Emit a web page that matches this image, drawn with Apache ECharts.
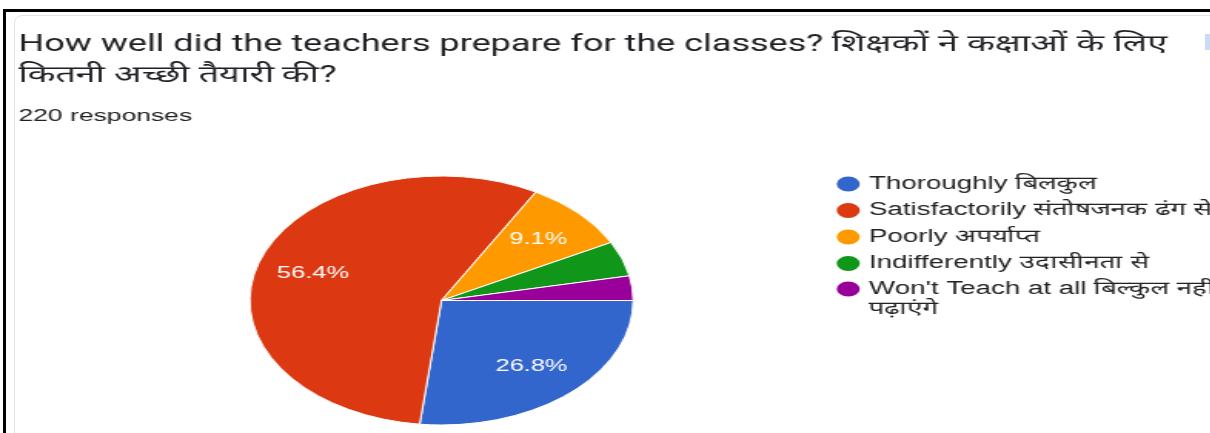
<!DOCTYPE html>
<html>
<head>
<meta charset="utf-8">
<script src="https://cdn.jsdelivr.net/npm/echarts@6/dist/echarts.min.js"></script>
<style>
body{
    margin:0;
    width:1210px;
    height:433px;
    overflow:hidden;
    background:#fff;
    position:relative;
}
#card{
    position:absolute;
    left:14px;
    top:15px;
    width:1230px;
    height:440px;
    border:1px solid #e3e3e3;
    border-radius:8px;
}
#stretch{
    position:absolute;
    left:0;
    top:0;
    width:800px;
    height:433px;
    transform:scaleX(1.54);
    transform-origin:0 0;
}
#main{
    width:800px;
    height:433px;
}
#frameTop{
    position:absolute;
    left:3px;
    top:9px;
    width:1207px;
    height:3px;
    background:#000;
}
#frameLeft{
    position:absolute;
    left:3px;
    top:9px;
    width:3px;
    height:424px;
    background:#000;
}
#copyIcon{
    position:absolute;
    left:1205px;
    top:34px;
    width:5px;
    height:16px;
    background:#c9dcf7;
}
</style>
</head>
<body>
<div id="card"></div>
<div id="stretch"><div id="main"></div></div>
<div id="copyIcon"></div>
<div id="frameTop"></div>
<div id="frameLeft"></div>
<script>
// answers and counts (220 responses)
var categories = [
    'Thoroughly बिलकुल',
    'Satisfactorily संतोषजनक ढंग से',
    'Poorly अपर्याप्त',
    'Indifferently उदासीनता से',
    "Won't Teach at all बिल्कुल नहीं पढ़ाएंगे"
];
var counts = [59, 124, 20, 10, 7];
var colors = ['#3366cc', '#dc3912', '#ff9900', '#109618', '#990099'];
var titleText = 'How well did the teachers prepare for the classes? शिक्षकों ने कक्षाओं के लिए\nकितनी अच्छी तैयारी की?';
var responsesText = '220 responses';

var font = "'Liberation Sans', Arial, sans-serif";
var titleFont = "Roboto, 'Liberation Sans', sans-serif";

var pieData = categories.map(function (name, i) {
    return { name: name, value: counts[i] };
});

var chart = echarts.init(document.getElementById('main'));

var legendBase = {
    orient: 'vertical',
    left: 541.3,
    padding: 0,
    icon: 'circle',
    itemWidth: 17,
    itemHeight: 17,
    textStyle: {
        fontFamily: font,
        fontSize: 18,
        lineHeight: 20,
        color: '#222'
    }
};

var option = {
    animation: false,
    color: colors,
    title: [
        {
            text: titleText,
            left: 12,
            top: 30,
            padding: 0,
            textStyle: {
                fontFamily: titleFont,
                fontSize: 23.4,
                fontWeight: 'normal',
                lineHeight: 31,
                color: '#202124'
            }
        },
        {
            text: responsesText,
            left: 12,
            top: 108,
            padding: 0,
            textStyle: {
                fontFamily: font,
                fontSize: 17.2,
                fontWeight: 'normal',
                color: '#202124'
            }
        }
    ],
    legend: [
        echarts.util.merge({
            top: 174,
            itemGap: 6.5,
            data: categories.slice(0, 4)
        }, legendBase),
        echarts.util.merge({
            // last answer wraps: empty first line keeps the dot on the first text line
            top: 259,
            data: categories.slice(4),
            formatter: function (name) {
                return '\n' + name.replace(' पढ़ाएंगे', '\nपढ़ाएंगे');
            }
        }, legendBase)
    ],
    series: [
        {
            type: 'pie',
            center: [286.7, 300.5],
            radius: [0, 124.5],
            startAngle: 0,
            clockwise: true,
            data: pieData,
            label: { show: false },
            labelLine: { show: false },
            itemStyle: {
                borderColor: '#fff',
                borderWidth: 1
            }
        },
        {
            // label ring only, keeps the percentages out near 0.7 r like the original
            type: 'pie',
            center: [286.7, 300.5],
            radius: [45, 124.5],
            startAngle: 0,
            clockwise: true,
            silent: true,
            data: pieData,
            itemStyle: { color: 'rgba(0,0,0,0)' },
            labelLine: { show: false },
            label: {
                show: true,
                position: 'inside',
                fontFamily: font,
                fontSize: 16.5,
                color: '#fff',
                formatter: function (p) {
                    return p.percent >= 5 ? p.percent.toFixed(1) + '%' : '';
                }
            }
        }
    ]
};

chart.setOption(option);
</script>
</body>
</html>
